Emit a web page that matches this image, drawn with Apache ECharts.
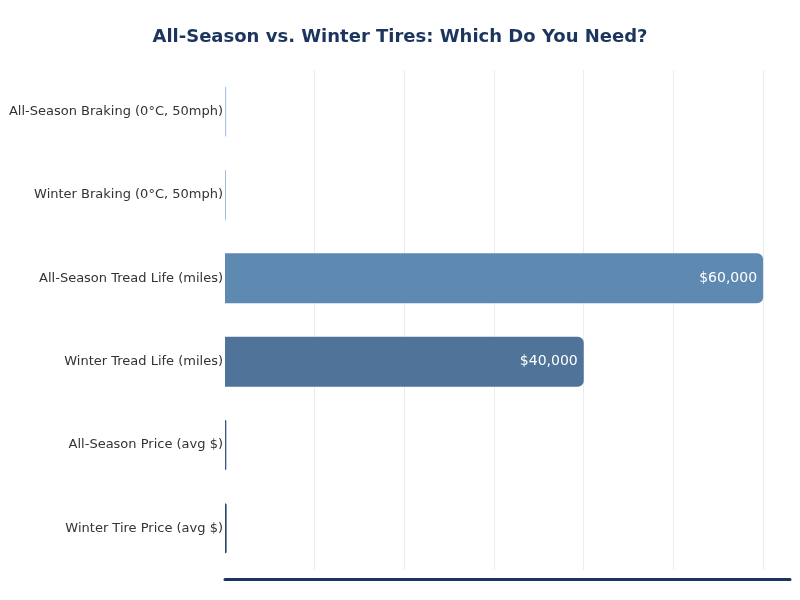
<!DOCTYPE html>
<html>
<head>
<meta charset="utf-8">
<script src="https://cdn.jsdelivr.net/npm/echarts@6/dist/echarts.min.js"></script>
<style>
html,body{margin:0;padding:0;background:#fff;}
#chart{width:800px;height:600px;}
</style>
</head>
<body>
<div id="chart"></div>
<script>
const categories = [
  'All-Season Braking (0°C, 50mph)',
  'Winter Braking (0°C, 50mph)',
  'All-Season Tread Life (miles)',
  'Winter Tread Life (miles)',
  'All-Season Price (avg $)',
  'Winter Tire Price (avg $)'
];
const values = [130, 110, 60000, 40000, 150, 180];
const barColors = ['#a9c5e2', '#9dbcdb', '#5e89b1', '#4f7399', '#3b5780', '#2c4468'];

const chart = echarts.init(document.getElementById('chart'));
chart.setOption({
  backgroundColor: '#ffffff',
  animation: false,
  title: {
    text: 'All-Season vs. Winter Tires: Which Do You Need?',
    left: 'center',
    top: 23,
    textStyle: { fontFamily: 'DejaVu Sans', fontSize: 18, fontWeight: 'bold', color: '#1b355e' }
  },
  grid: { left: 225, right: 10, top: 70, bottom: 30, containLabel: false, outerBoundsMode: 'none' },
  xAxis: {
    type: 'value',
    min: 0,
    max: 63000,
    interval: 10000,
    offset: 9,
    axisLabel: { show: false },
    axisTick: { show: false },
    axisLine: { show: true, lineStyle: { color: '#1b355e', width: 3 } },
    splitLine: { show: true, showMinLine: false, showMaxLine: false, lineStyle: { color: '#ececec', width: 1 } }
  },
  yAxis: {
    type: 'category',
    data: categories,
    inverse: true,
    axisLine: { show: false },
    axisTick: { show: false },
    axisLabel: { margin: 2, fontFamily: 'DejaVu Sans', fontSize: 13, color: '#333333' }
  },
  series: [{
    type: 'bar',
    barWidth: '60%',
    data: values.map((v, i) => ({
      value: v,
      itemStyle: { color: barColors[i], borderRadius: [0, 6, 6, 0] }
    })),
    label: {
      show: true,
      position: 'insideRight',
      distance: 6,
      color: '#ffffff',
      fontFamily: 'DejaVu Sans',
      fontSize: 14,
      formatter: p => p.value >= 1000 ? '$' + p.value.toLocaleString('en-US') : ''
    }
  }]
});
</script>
</body>
</html>
